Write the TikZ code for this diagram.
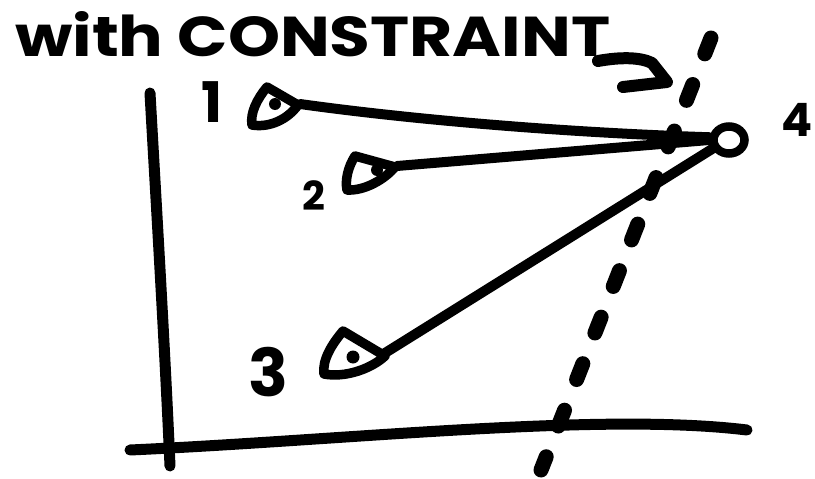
\documentclass[tikz,border=0pt]{standalone}
\usepackage{fontspec}
\usepackage{graphicx}
\setmainfont{Poppins}
\usetikzlibrary{shapes.geometric}
\tikzset{
  ink/.style={draw=black, line width=10pt, line cap=round, line join=round},
  axisline/.style={ink, line width=11pt},
  pointer/.style={ink, line width=12pt},
  eyeshape/.style={draw=black, line width=9.5pt, line join=round, line cap=round},
  pupil/.style={fill=black},
  constraint/.style={draw=black, line width=15pt, line cap=round, dash pattern=on 17pt off 33pt},
  digit/.style={inner sep=0pt, font=\bfseries},
  target/.style={draw=black, ellipse, line width=8.5pt, minimum width=31pt, minimum height=27pt, inner sep=0pt},
}
\begin{document}
\begin{tikzpicture}[x=1pt,y=-1pt]
\useasboundingbox (0,0) rectangle (815,479);
% title
\node[anchor=south west, inner sep=0pt] (title) at (15,57)
  {\resizebox{595pt}{45pt}{\fontsize{50}{50}\selectfont\bfseries with CONSTRAINT}};
% pointing arrow
\coordinate (a0) at (598,61);
\coordinate (a1) at (667,82);
\coordinate (a2) at (623,87);
\draw[pointer] (a0) .. controls (620,57) and (640,57) .. (652,63) -- (a1) -- (a2);
% axes
\coordinate (yt) at (150,93);
\coordinate (yb) at (170,466);
\draw[axisline] (yt) .. controls (156,200) and (165,350) .. (yb);
\coordinate (xl) at (130,450);
\coordinate (xr) at (747,430);
\draw[axisline] (xl) .. controls (350,440) and (600,412) .. (xr);
% constraint (dashed)
\coordinate (d0) at (711,38);
\coordinate (d1) at (541,470);
\draw[constraint] (d0) -- (d1);
% point 4
\node[target] (p4) at (729,140) {};
% eye 1
\draw[eyeshape] (298,105) -- (267,87) .. controls (257,99) and (250,113) .. (252,125) .. controls (270,128) and (288,119) .. cycle;
\fill[pupil] (275,104) circle (6pt);
\coordinate (t1) at (300,104);
% eye 2
\draw[eyeshape] (395,167) -- (355,156) .. controls (348,167) and (345,180) .. (347,190) .. controls (365,191) and (385,179) .. cycle;
\fill[pupil] (377,170) circle (6pt);
\coordinate (t2) at (397,166);
% eye 3
\draw[eyeshape] (385,356) -- (343,331) .. controls (332,344) and (322,360) .. (324,374) .. controls (345,378) and (371,369) .. cycle;
\fill[pupil] (353,357) circle (6.5pt);
\coordinate (t3) at (385,353);
% connectors
\draw[ink] (t1) .. controls (400,118) and (550,132) .. (p4.172);
\draw[ink] (t2) -- (p4.west);
\draw[ink] (t3) -- (p4.208);
% labels
\node[digit, font=\fontsize{56}{56}\selectfont\bfseries] (l1) at (212,102) {1};
\node[digit, font=\fontsize{40}{40}\selectfont\bfseries] (l2) at (314,196) {2};
\node[digit, font=\fontsize{66}{66}\selectfont\bfseries] (l3) at (268,372) {3};
\node[digit, font=\fontsize{46}{46}\selectfont\bfseries, anchor=east] (l4) at (813,120) {4};
\end{tikzpicture}
\end{document}
